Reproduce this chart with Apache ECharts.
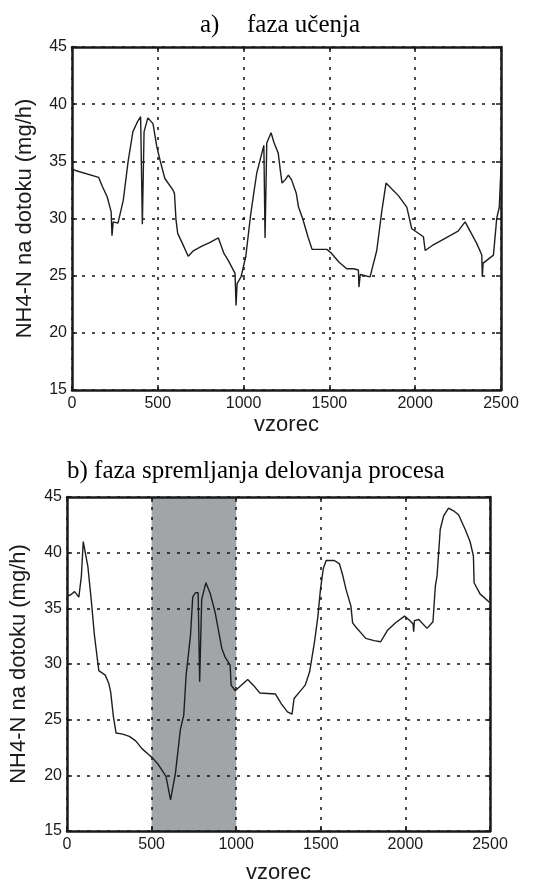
<!DOCTYPE html>
<html>
<head>
<meta charset="utf-8">
<script src="https://cdn.jsdelivr.net/npm/echarts@6/dist/echarts.min.js"></script>
<style>html,body{margin:0;padding:0;background:#fff}#main{width:548px;height:885px}</style>
</head>
<body>
<div id="main"></div>
<script>
// axis ranges / ticks
var xMin = 0, xMax = 2500, xStep = 500;
var yMin = 15, yMax = 45, yStep = 5;

// a) faza ucenja - sample index and NH4-N value
var learnX = [0,3,8,20,155,177,205,228,233,240,268,299,327,355,383,400,410,420,442,472,494,513,541,588,597,606,616,644,677,709,760,802,853,884,912,950,956,962,985,1013,1040,1059,1077,1096,1118,1125,1135,1160,1178,1202,1215,1224,1243,1261,1279,1307,1320,1344,1375,1399,1445,1485,1509,1555,1601,1640,1669,1672,1680,1737,1776,1805,1830,1902,1951,1980,2048,2058,2106,2203,2250,2291,2359,2388,2391,2396,2456,2475,2490,2500];
var learnY = [37.0,33.2,34.3,34.2,33.6,32.8,31.9,30.6,28.5,29.7,29.6,31.6,35.0,37.6,38.5,38.9,29.5,37.6,38.8,38.3,36.3,35.1,33.5,32.5,32.2,29.9,28.7,27.8,26.7,27.2,27.6,27.9,28.3,27.0,26.3,25.2,22.4,24.3,24.9,26.7,30.2,32.2,34.0,35.1,36.4,28.3,36.6,37.5,36.6,35.7,34.1,33.1,33.4,33.8,33.4,32.2,31.0,30.0,28.4,27.3,27.3,27.3,27.0,26.2,25.6,25.6,25.5,24.0,25.1,24.9,27.2,30.6,33.1,32.0,31.0,29.1,28.4,27.2,27.7,28.5,28.9,29.7,27.8,26.8,24.9,26.1,26.8,30.0,31.0,34.5];

// b) faza spremljanja delovanja procesa
var monX = [0,20,45,70,85,96,106,123,143,162,188,226,246,258,274,290,330,368,406,443,481,509,538,585,612,641,670,690,704,730,743,759,775,784,796,821,847,876,915,935,964,970,994,1068,1101,1140,1232,1268,1303,1330,1342,1375,1408,1434,1463,1483,1498,1515,1532,1580,1610,1629,1649,1678,1688,1708,1766,1815,1854,1893,1942,1995,2026,2045,2049,2053,2079,2128,2163,2177,2187,2206,2226,2255,2290,2314,2353,2382,2402,2406,2441,2500];
var monY = [36.1,36.2,36.5,36.0,37.9,41.0,40.9,38.8,35.8,32.6,29.4,29.0,28.3,27.5,25.3,23.8,23.7,23.5,23.1,22.4,21.9,21.5,21.0,19.9,17.8,20.2,24.1,25.4,29.0,32.6,36.0,36.4,36.4,28.4,35.8,37.3,36.3,34.6,31.4,30.6,29.9,28.1,27.6,28.6,28.1,27.4,27.3,26.4,25.7,25.5,26.9,27.5,28.1,29.3,32.0,34.3,36.7,38.6,39.3,39.3,39.0,38.0,36.7,35.2,33.7,33.3,32.3,32.1,32.0,33.0,33.7,34.3,33.9,33.6,32.9,33.9,34.0,33.2,33.8,37.0,37.9,42.1,43.3,44.0,43.7,43.4,42.1,41.0,39.7,37.3,36.3,35.5];

// shaded span in panel b
var shadeSpan = [[500, 1000]];

var titleA = ['a)', 'faza učenja'];
var titleB = 'b) faza spremljanja delovanja procesa';
var xName = 'vzorec';
var yName = 'NH4-N na dotoku (mg/h)';

function pairs(xs, ys){
    var out = [];
    for (var i = 0; i < xs.length; i++) out.push([xs[i], ys[i]]);
    return out;
}

var sans = '"Liberation Sans", Arial, sans-serif';
var serif = '"Liberation Serif", "Times New Roman", serif';
var dark = '#1a1a1a';
var dotted = {color:'#111', width:1.5, type:[3,7]};

function xAx(grid, main, gap){
    return {
        type:'value', gridIndex:grid, min:xMin, max:xMax, interval:xStep,
        position: main ? 'bottom' : 'top', z:5,
        name: main ? xName : '', nameLocation:'middle', nameGap:gap,
        nameTextStyle:{fontFamily:sans, fontSize:22, color:dark},
        axisLine:{show:true, onZero:false, lineStyle:{color:dark, width:2.5}},
        axisTick:{show:true, inside:true, length:5, lineStyle:{color:dark, width:1.5}},
        axisLabel:{show:main, fontFamily:sans, fontSize:16, color:dark, margin:6,
            formatter:function(v){ return String(v); }},
        splitLine:{show:main, lineStyle:dotted}
    };
}
function yAx(grid, main, gap){
    return {
        type:'value', gridIndex:grid, min:yMin, max:yMax, interval:yStep,
        position: main ? 'left' : 'right', z:5,
        name: main ? yName : '', nameLocation:'middle', nameGap:gap, nameRotate:90,
        nameTextStyle:{fontFamily:sans, fontSize:22, color:dark},
        axisLine:{show:true, onZero:false, lineStyle:{color:dark, width:2.5}},
        axisTick:{show:true, inside:true, length:5, lineStyle:{color:dark, width:1.5}},
        axisLabel:{show:main, fontFamily:sans, fontSize:16, color:dark, margin:5},
        splitLine:{show:main, lineStyle:dotted}
    };
}

var chart = echarts.init(document.getElementById('main'), null, {renderer:'canvas'});
chart.setOption({
    animation:false,
    backgroundColor:'#fff',
    grid:[
        {left:72, top:47, width:429, height:343},
        {left:64, top:497, width:426, height:339}
    ],
    xAxis:[xAx(0,true,24), xAx(0,false,0), xAx(1,true,31), xAx(1,false,0)],
    yAxis:[yAx(0,true,36), yAx(0,false,0), yAx(1,true,37), yAx(1,false,0)],
    graphic:[
        {type:'text', x:200, y:25, style:{text:titleA[0], font:'25px '+serif, fill:'#000', verticalAlign:'middle'}},
        {type:'text', x:247, y:25, style:{text:titleA[1], font:'25px '+serif, fill:'#000', verticalAlign:'middle'}},
        {type:'text', x:67, y:471, style:{text:titleB, font:'25px '+serif, fill:'#000', verticalAlign:'middle'}}
    ],
    series:[
        {
            type:'line', xAxisIndex:0, yAxisIndex:0, z:10,
            data:pairs(learnX, learnY), showSymbol:false,
            lineStyle:{color:'#1e1e1e', width:1.4}
        },
        {
            type:'custom', xAxisIndex:2, yAxisIndex:2, z:1, silent:true,
            data:shadeSpan,
            encode:{x:[0,1]},
            renderItem:function(params, api){
                var p0 = api.coord([api.value(0), yMax]);
                var p1 = api.coord([api.value(1), yMin]);
                return {type:'rect', shape:{x:p0[0], y:p0[1], width:p1[0]-p0[0], height:p1[1]-p0[1]}, style:{fill:'#a2a5a8'}};
            }
        },
        {
            type:'line', xAxisIndex:2, yAxisIndex:2, z:10,
            data:pairs(monX, monY), showSymbol:false,
            lineStyle:{color:'#1e1e1e', width:1.4}
        }
    ]
});
</script>
</body>
</html>
